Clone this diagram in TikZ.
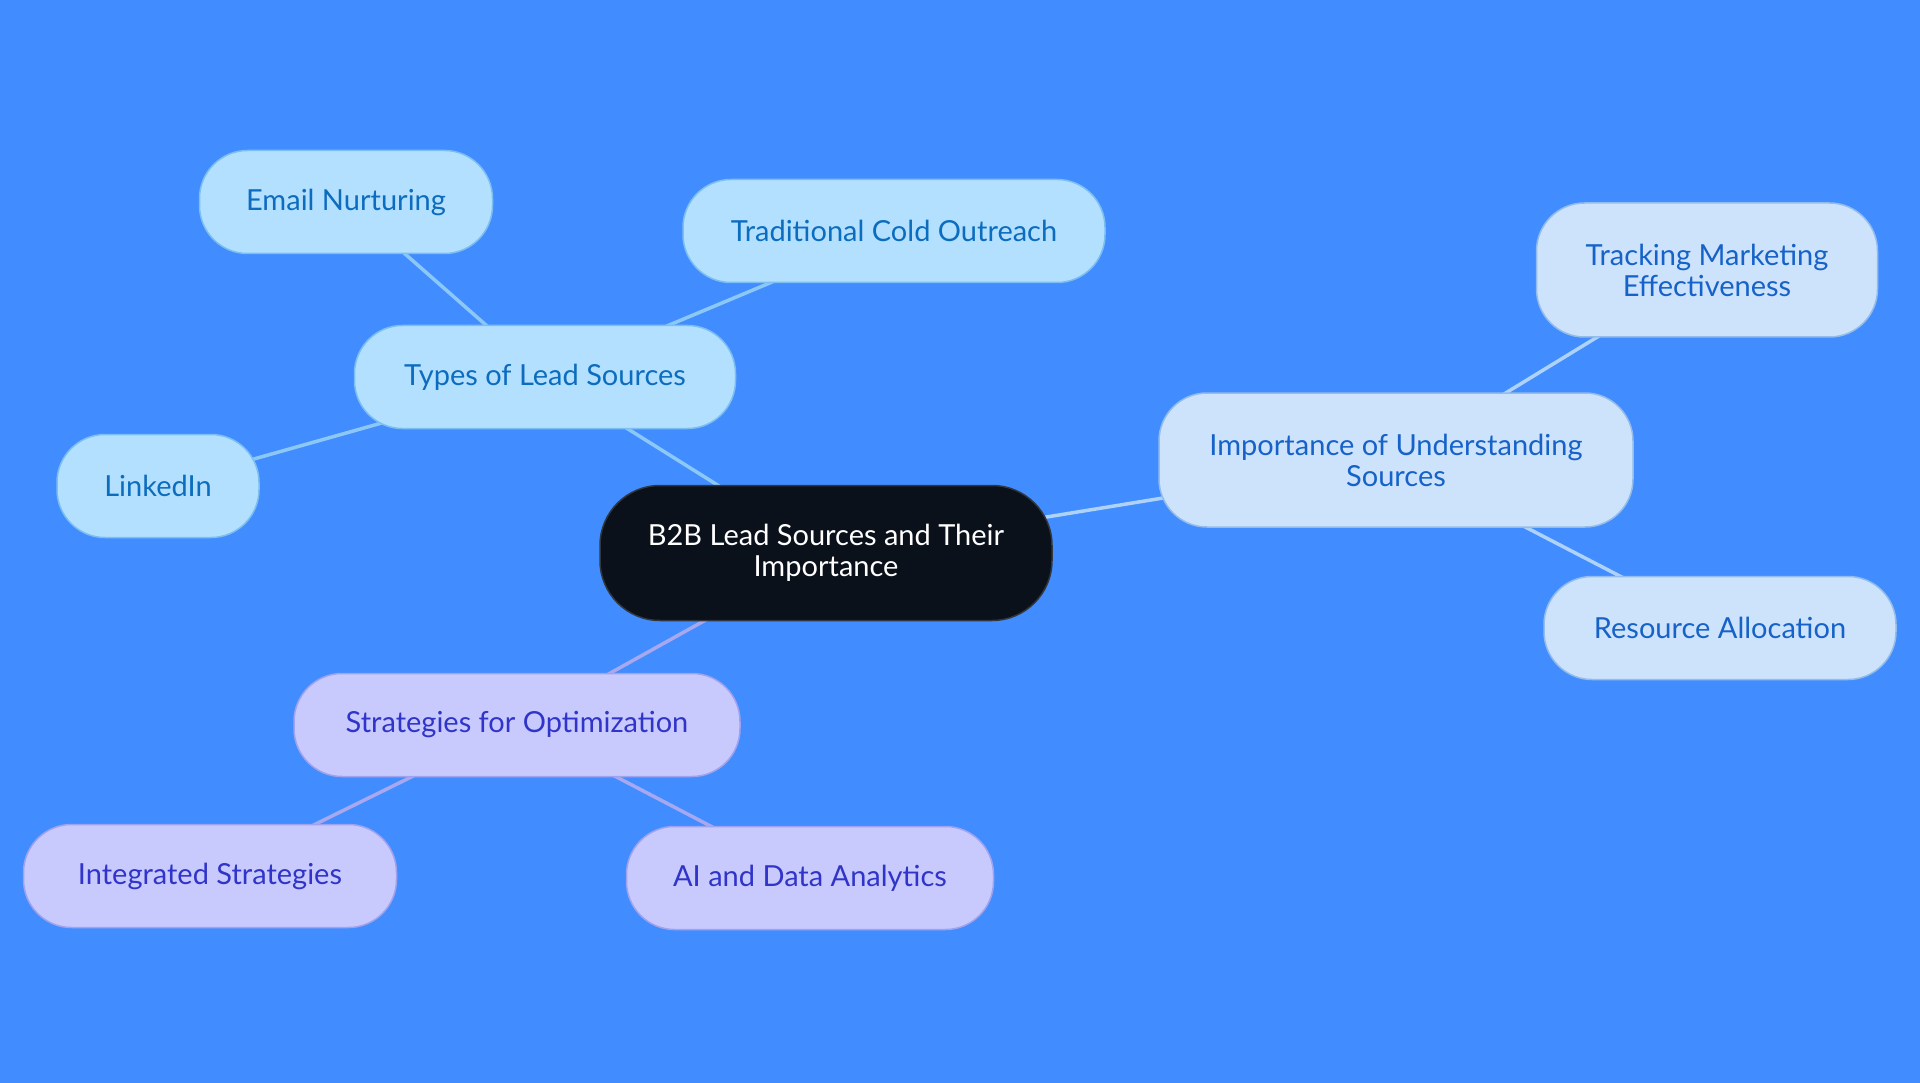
\documentclass[tikz,border=0pt]{standalone}
\usepackage{fontspec}
\setmainfont{Lato}
\usetikzlibrary{backgrounds}

\definecolor{bgblue}{RGB}{65,141,255}
\definecolor{rootfill}{RGB}{11,17,27}
\definecolor{rootline}{RGB}{50,55,62}
\definecolor{leadfill}{RGB}{180,224,255}
\definecolor{leadline}{RGB}{125,190,240}
\definecolor{leadtext}{RGB}{12,108,190}
\definecolor{leadwire}{RGB}{140,200,245}
\definecolor{rolefill}{RGB}{205,227,251}
\definecolor{roleline}{RGB}{148,188,235}
\definecolor{roletext}{RGB}{22,98,200}
\definecolor{rolewire}{RGB}{175,210,248}
\definecolor{optfill}{RGB}{200,202,253}
\definecolor{optline}{RGB}{160,162,238}
\definecolor{opttext}{RGB}{48,52,200}
\definecolor{optwire}{RGB}{168,168,240}

\begin{document}
\begin{tikzpicture}[x=1pt, y=-1pt,
    every node/.style={font=\fontsize{29}{31}\selectfont, align=center, line width=1.5pt, inner sep=0pt},
    rootbox/.style={fill=rootfill, draw=rootline, text=white, minimum width=452pt, minimum height=135pt, rounded corners=60pt},
    leadbox/.style={fill=leadfill, draw=leadline, text=leadtext, minimum height=103pt, rounded corners=48pt},
    rolebox/.style={fill=rolefill, draw=roleline, text=roletext, rounded corners=48pt},
    optbox/.style={fill=optfill, draw=optline, text=opttext, minimum height=103pt, rounded corners=48pt},
    leadlink/.style={draw=leadwire, line width=3.5pt},
    rolelink/.style={draw=rolewire, line width=3.5pt},
    optlink/.style={draw=optwire, line width=3.5pt}]

    % centre
    \node[rootbox] (root) at (826,553) {B2B Lead Sources and Their\\Importance};

    % types of lead sources
    \node[leadbox, minimum width=381pt] (types) at (545,377) {Types of Lead Sources};
    \node[leadbox, minimum width=293pt] (email) at (346,202) {Email Nurturing};
    \node[leadbox, minimum width=422pt] (cold) at (894,231) {Traditional Cold Outreach};
    \node[leadbox, minimum width=202pt] (linkedin) at (158,486) {LinkedIn};

    % importance
    \node[rolebox, minimum width=474pt, minimum height=134pt] (importance) at (1396,460) {Importance of Understanding\\Sources};
    \node[rolebox, minimum width=341pt, minimum height=134pt] (tracking) at (1707,270) {Tracking Marketing\\Effectiveness};
    \node[rolebox, minimum width=352pt, minimum height=103pt] (allocation) at (1720,628) {Resource Allocation};

    % optimization
    \node[optbox, minimum width=446pt] (strategies) at (517,725) {Strategies for Optimization};
    \node[optbox, minimum width=373pt] (integrated) at (210,876) {Integrated Strategies};
    \node[optbox, minimum width=367pt] (analytics) at (810,878) {AI and Data Analytics};

    \begin{scope}[on background layer]
        \fill[bgblue] (0,0) rectangle (1920,1083);
        \draw[leadlink] (root.center) -- (types.center);
        \draw[leadlink] (types.center) -- (email.center);
        \draw[leadlink] (types.center) -- (cold.center);
        \draw[leadlink] (types.center) -- (linkedin.center);
        \draw[rolelink] (root.center) -- (importance.center);
        \draw[rolelink] (importance.center) -- (tracking.center);
        \draw[rolelink] (importance.center) -- (allocation.center);
        \draw[optlink] (root.center) -- (strategies.center);
        \draw[optlink] (strategies.center) -- (integrated.center);
        \draw[optlink] (strategies.center) -- (analytics.center);
    \end{scope}
\end{tikzpicture}
\end{document}
